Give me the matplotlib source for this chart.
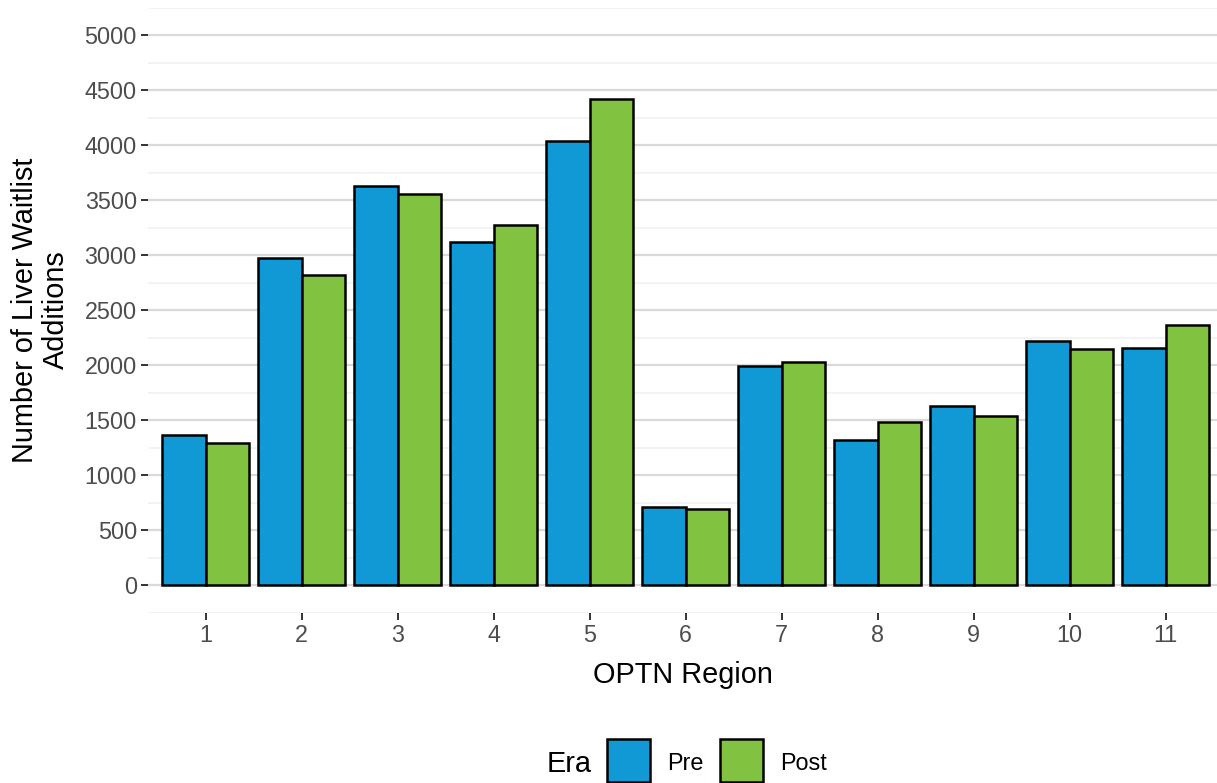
import matplotlib
matplotlib.use("Agg")
import matplotlib.pyplot as plt
from matplotlib.patches import Rectangle
import numpy as np

plt.rcParams['font.family'] = ['Liberation Sans', 'DejaVu Sans']

regions = [1, 2, 3, 4, 5, 6, 7, 8, 9, 10, 11]
pre = [1364, 2970, 3630, 3115, 4039, 712, 1991, 1318, 1627, 2221, 2152]
post = [1288, 2818, 3557, 3276, 4421, 691, 2027, 1485, 1539, 2142, 2367]
series_names = ["Pre", "Post"]
colors = ["#1199D6", "#82C241"]
y_ticks = [0, 500, 1000, 1500, 2000, 2500, 3000, 3500, 4000, 4500, 5000]

W, H = 1217, 783
fig = plt.figure(figsize=(W / 100, H / 100), dpi=100)

def px(x0, y0, x1, y1):
    return [x0 / W, 1 - y1 / H, (x1 - x0) / W, (y1 - y0) / H]

ax = fig.add_axes(px(148, 7.5, 1217, 612.5))

x = np.array(regions, dtype=float)
bw = 0.45
for vals, off, c in [(pre, -bw / 2, colors[0]), (post, bw / 2, colors[1])]:
    ax.bar(x + off, vals, width=bw, color=c, edgecolor="black", linewidth=1.8, zorder=3)

ax.set_xlim(0.4, 11.535)
ax.set_ylim(-250, 5250)
ax.set_yticks(y_ticks)
ax.set_yticklabels([str(v) for v in y_ticks])
ax.set_yticks([v + 250 for v in [-500] + y_ticks], minor=True)
ax.set_xticks(regions)
ax.set_xticklabels([str(r) for r in regions])

ax.grid(axis="y", which="major", color="#D9D9D9", linewidth=1.6, zorder=0)
ax.grid(axis="y", which="minor", color="#F0F0F0", linewidth=1.1, zorder=0)
ax.grid(axis="x", visible=False)
for s in ax.spines.values():
    s.set_visible(False)

ax.tick_params(axis="both", which="major", labelsize=16.8, labelcolor="#4D4D4D",
               color="#333333", length=5, width=1.4, pad=3)
ax.tick_params(axis="y", which="minor", length=0)
ax.set_axisbelow(True)

ax.set_xlabel("OPTN Region", fontsize=20.8, color="black", labelpad=10.5)
fig.text(40.5 / W, 1 - 310 / H, "Number of Liver Waitlist\nAdditions", rotation=90,
         ha="center", va="center", multialignment="center", fontsize=20.8,
         linespacing=1.12, color="black")

# legend
fig.text(547 / W, 1 - 771.7 / H, "Era", fontsize=20.8, ha="left", va="baseline")
for (x0, lab, lx), c in zip([(607, series_names[0], 667), (720, series_names[1], 780)], colors):
    fig.add_artist(Rectangle((x0 / W, 1 - 782 / H), 43 / W, 43 / H, transform=fig.transFigure,
                             facecolor=c, edgecolor="black", linewidth=1.8))
    fig.text(lx / W, 1 - 770 / H, lab, fontsize=16.8, ha="left", va="baseline")

fig.savefig("out.png", dpi=100)
